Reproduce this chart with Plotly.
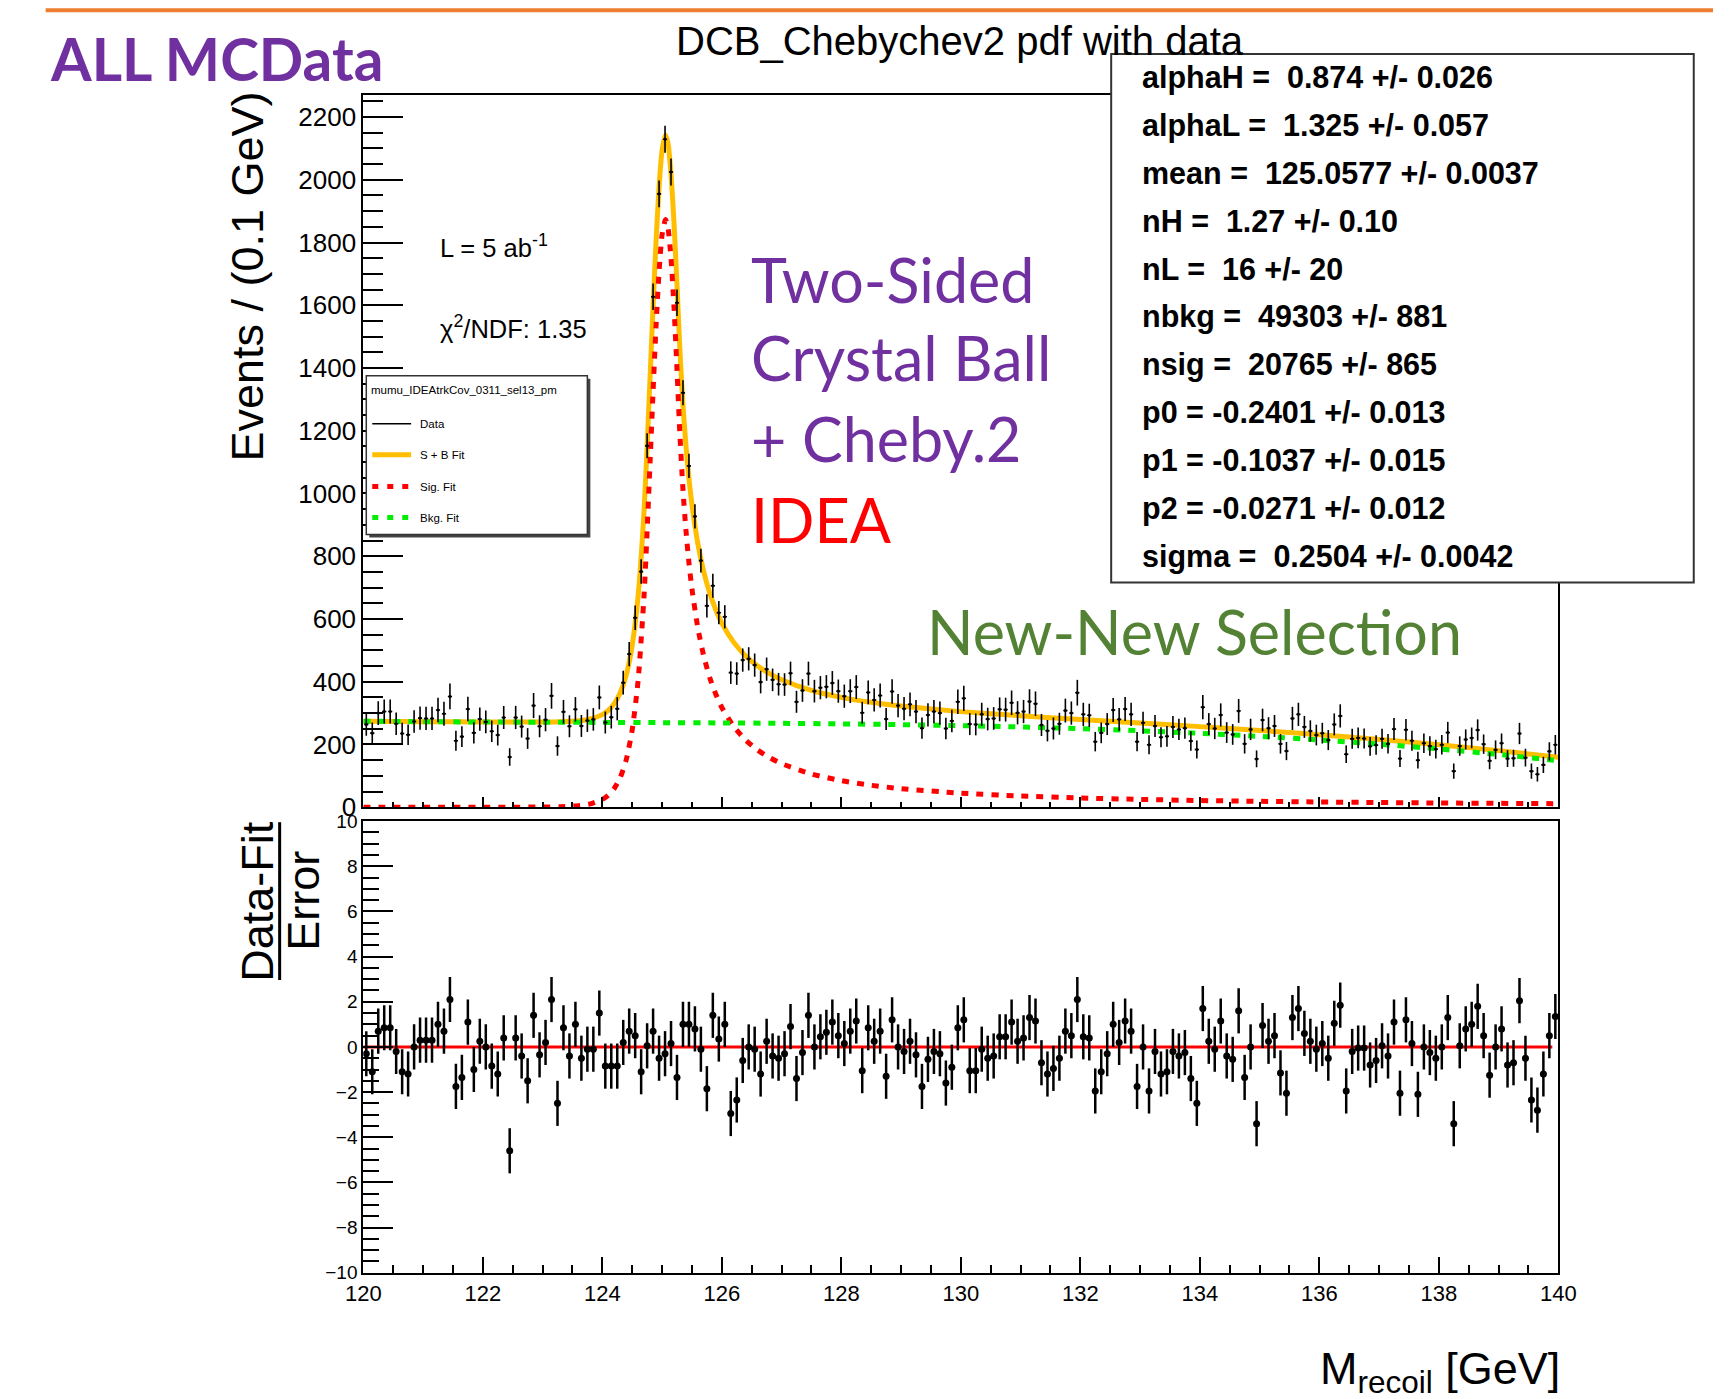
import plotly.graph_objects as go

W, H = 1731, 1399

# ---------------- data ----------------
BIN_LO, BIN_W, NBINS = 120.0, 0.1, 200
bin_centers = [round(BIN_LO + BIN_W * (i + 0.5), 3) for i in range(NBINS)]

counts = [264, 236, 300, 305, 305, 266, 235, 231, 273, 284,
          283, 283, 310, 298, 353, 212, 225, 313, 237, 281,
          272, 242, 230, 286, 160, 286, 257, 219, 324, 258,
          279, 355, 195, 304, 258, 312, 259, 276, 280, 350,
          270, 287, 314, 397, 488, 604, 751, 1152, 1627, 1955,
          2129, 2025, 1608, 1321, 1088, 927, 786, 642, 706, 620,
          607, 429, 426, 469, 473, 453, 399, 440, 406, 392,
          391, 427, 336, 372, 426, 370, 381, 384, 396, 370,
          354, 370, 383, 301, 366, 342, 356, 281, 369, 324,
          314, 328, 305, 252, 294, 305, 300, 251, 275, 336,
          347, 265, 264, 296, 281, 283, 312, 311, 333, 301,
          305, 337, 330, 262, 244, 251, 266, 308, 300, 365,
          296, 293, 209, 237, 265, 310, 280, 313, 296, 209,
          269, 199, 259, 223, 226, 256, 248, 252, 211, 184,
          319, 265, 251, 294, 238, 232, 307, 202, 248, 154,
          278, 252, 259, 202, 179, 283, 296, 256, 243, 230,
          236, 214, 264, 291, 169, 218, 221, 219, 194, 198,
          218, 202, 249, 155, 247, 212, 150, 204, 195, 185,
          199, 238, 115, 195, 216, 221, 246, 201, 148, 183,
          204, 155, 156, 235, 158, 115, 105, 135, 178, 199]

count_errors = [36, 34, 38, 38, 38, 36, 34, 33, 36, 37,
                37, 37, 39, 38, 41, 32, 33, 39, 34, 37,
                36, 34, 33, 37, 28, 37, 35, 33, 40, 35,
                37, 41, 31, 38, 35, 39, 35, 36, 36, 38,
                35, 36, 37, 38, 39, 39, 39, 40, 42, 43,
                43, 43, 42, 40, 39, 39, 38, 37, 38, 37,
                37, 36, 36, 37, 37, 37, 36, 37, 36, 36,
                36, 37, 35, 36, 38, 36, 37, 37, 38, 37,
                37, 38, 38, 35, 38, 37, 38, 35, 39, 37,
                37, 38, 37, 34, 37, 37, 37, 34, 36, 39,
                40, 35, 35, 37, 36, 36, 38, 38, 39, 37,
                37, 39, 39, 35, 34, 35, 35, 38, 37, 41,
                37, 37, 31, 33, 35, 38, 36, 38, 37, 31,
                35, 30, 35, 32, 33, 35, 34, 34, 31, 29,
                39, 35, 34, 37, 33, 33, 38, 31, 34, 27,
                36, 35, 35, 31, 29, 37, 37, 35, 34, 33,
                33, 32, 35, 37, 28, 32, 33, 32, 30, 31,
                32, 31, 35, 27, 34, 32, 27, 31, 31, 30,
                31, 34, 24, 31, 32, 33, 34, 31, 27, 30,
                31, 27, 27, 34, 28, 24, 23, 26, 29, 31]

pulls = [-0.3, -1.1, 0.7, 0.85, 0.85, -0.2, -1.1, -1.2, 0, 0.3,
         0.3, 0.3, 1.0, 0.7, 2.1, -1.75, -1.35, 1.1, -1.0, 0.25,
         0, -0.85, -1.2, 0.4, -4.6, 0.4, -0.4, -1.5, 1.4, -0.35,
         0.2, 2.1, -2.5, 0.85, -0.4, 1.0, -0.5, -0.1, -0.1, 1.5,
         -0.85, -0.85, -0.85, 0.2, 0.7, 0.5, -1.1, 0.05, 0.7, -0.5,
         -0.3, 0.15, -1.35, 1.0, 1.0, 0.8, -0.1, -1.85, 1.4, 0.35,
         1.0, -2.95, -2.35, -0.6, 0, -0.1, -1.2, 0.25, -0.4, -0.5,
         -0.3, 0.9, -1.4, -0.25, 1.4, 0, 0.45, 0.65, 1.1, 0.5,
         0.15, 0.7, 1.15, -1.05, 0.85, 0.25, 0.7, -1.3, 1.2, 0,
         -0.2, 0.25, -0.35, -1.75, -0.55, -0.2, -0.3, -1.6, -0.9, 0.85,
         1.2, -1.05, -1.05, -0.1, -0.5, -0.4, 0.45, 0.45, 1.1, 0.25,
         0.4, 1.3, 1.15, -0.7, -1.2, -0.95, -0.5, 0.7, 0.5, 2.1,
         0.45, 0.4, -1.95, -1.1, -0.3, 1.0, 0.2, 1.15, 0.7, -1.75,
         0, -1.95, -0.2, -1.2, -1.1, -0.2, -0.4, -0.25, -1.4, -2.5,
         1.7, 0.25, -0.1, 1.15, -0.4, -0.55, 1.6, -1.35, 0, -3.4,
         0.95, 0.25, 0.5, -1.15, -2.05, 1.3, 1.7, 0.6, 0.25, -0.1,
         0.15, -0.5, 1.05, 1.85, -1.95, -0.2, -0.05, -0.05, -0.8, -0.6,
         0.05, -0.4, 1.1, -2.05, 1.2, 0.15, -2.1, 0, -0.25, -0.5,
         0, 1.3, -3.4, 0.05, 0.8, 1.0, 1.8, 0.5, -1.25, 0,
         0.8, -0.8, -0.7, 2.05, -0.5, -2.35, -2.8, -1.2, 0.5, 1.35]
pull_error = 1.0

# fit curves
curve_x = [120, 121, 122, 122.5, 123, 123.3, 123.6, 123.8, 124.0, 124.1,
           124.2, 124.3, 124.4, 124.5, 124.6, 124.7, 124.75, 124.8, 124.85, 124.9,
           124.95, 125.0, 125.0577, 125.1, 125.15, 125.2, 125.25, 125.3, 125.35, 125.4,
           125.45, 125.5, 125.6, 125.7, 125.8, 125.9, 126.0, 126.2, 126.4, 126.6,
           126.8, 127, 127.5, 128, 128.5, 129, 130, 131, 132, 133,
           134, 135, 136, 137, 138, 139, 140]
sig_fit = [0, 0, 0.05, 0.2, 0.5, 1.6, 4.9, 10.8, 24.9, 38.3,
           59.8, 94.4, 151, 246, 405, 679, 880, 1103, 1328, 1536,
           1707, 1824, 1873, 1846, 1749, 1594, 1395, 1182, 1012, 882,
           779, 696, 570, 480, 412, 360, 318, 257, 214, 182,
           158, 139, 106, 84.6, 69.9, 59.2, 44.8, 35.7, 29.4, 24.9,
           21.4, 18.8, 16.7, 14.9, 13.5, 12.3, 11.3]
tot_fit = [274.0, 272.6, 271.65, 271.25, 271.4, 272.3, 275.4, 281.3, 295.2, 308.5,
           330, 364.5, 421, 516, 674.9, 948.8, 1149.8, 1372.7, 1597.7, 1805.7,
           1976.6, 2093.6, 2142.6, 2115.5, 2018.5, 1863.4, 1664.4, 1451.3, 1281.3, 1151.2,
           1048.2, 965.1, 839, 749, 680.9, 628.8, 586.7, 525.4, 482.2, 449.9,
           425.7, 406.4, 372.5, 350.2, 334.3, 322.4, 304.7, 291.4, 279.7, 268.5,
           256.9, 244.6, 231.1, 215.9, 199.2, 180.4, 159.5]
bkg_x = [120, 121, 122, 123, 124, 125, 126, 127, 128, 129, 130,
         131, 132, 133, 134, 135, 136, 137, 138, 139, 140]
bkg_fit = [274.0, 272.6, 271.6, 270.9, 270.3, 269.6, 268.7, 267.4, 265.6, 263.2, 259.9,
           255.7, 250.3, 243.6, 235.5, 225.8, 214.4, 201.0, 185.7, 168.1, 148.2]

stat_lines = ["alphaH =\u00a0 0.874 +/- 0.026",
              "alphaL =\u00a0 1.325 +/- 0.057",
              "mean =\u00a0 125.0577 +/- 0.0037",
              "nH =\u00a0 1.27 +/- 0.10",
              "nL =\u00a0 16 +/- 20",
              "nbkg =\u00a0 49303 +/- 881",
              "nsig =\u00a0 20765 +/- 865",
              "p0 = -0.2401 +/- 0.013",
              "p1 = -0.1037 +/- 0.015",
              "p2 = -0.0271 +/- 0.012",
              "sigma =\u00a0 0.2504 +/- 0.0042"]

# ---------------- layout helpers ----------------
# Positions are written in target-picture pixels and mapped onto the figure
# (the captured page shows the figure with a small inset).
def Tx(r):
    return 1.017 * r - 14.5

def Ty(r):
    return 1.017 * r - 9.0

def px(x):
    return min(max(Tx(x) / W, 0.0), 1.0)

def py(y):
    return min(max(1 - Ty(y) / H, 0.0), 1.0)

ORANGE = "#FFBE00"
PURPLE = "#7030A0"
SANS = "Liberation Sans, Arial, sans-serif"
CAL = "Lato, sans-serif"

fig = go.Figure()

# top panel
fig.add_trace(go.Scatter(x=curve_x, y=tot_fit, mode="lines", line=dict(color=ORANGE, width=5, shape="spline", smoothing=0.6),
                         xaxis="x", yaxis="y", hoverinfo="skip"))
fig.add_trace(go.Scatter(x=curve_x, y=sig_fit, mode="lines", line=dict(color="#FF0000", width=5, dash="7px,8px", shape="spline", smoothing=0.6),
                         xaxis="x", yaxis="y", hoverinfo="skip"))
fig.add_trace(go.Scatter(x=bkg_x, y=bkg_fit, mode="lines", line=dict(color="#00EE00", width=5, dash="7px,8px", shape="spline", smoothing=0.6),
                         xaxis="x", yaxis="y", hoverinfo="skip"))
fig.add_trace(go.Scatter(x=bin_centers, y=counts, mode="markers",
                         marker=dict(color="black", size=3),
                         error_y=dict(type="data", array=count_errors, color="black", thickness=1.6, width=0),
                         error_x=dict(type="constant", value=0.035, color="black", thickness=1.6, width=0),
                         xaxis="x", yaxis="y"))

# bottom panel
fig.add_trace(go.Scatter(x=[120, 139.9], y=[0, 0], mode="lines", line=dict(color="#FF0000", width=3),
                         xaxis="x2", yaxis="y2", hoverinfo="skip"))
fig.add_trace(go.Scatter(x=bin_centers, y=pulls, mode="markers",
                         marker=dict(color="black", size=7),
                         error_y=dict(type="constant", value=pull_error, color="black", thickness=2.5, width=0),
                         xaxis="x2", yaxis="y2"))

xdom = [px(361), px(1561)]
axis_common = dict(showline=True, mirror=True, linecolor="black", linewidth=2,
                   showgrid=False, zeroline=False, ticks="inside", tickcolor="black", tickwidth=2)

fig.update_layout(
    width=W, height=H, showlegend=False,
    paper_bgcolor="white", plot_bgcolor="white",
    margin=dict(l=0, r=0, t=0, b=0),
    xaxis=dict(domain=xdom, range=[120, 140], anchor="y", dtick=2, ticklen=10,
               minor=dict(dtick=0.5, ticklen=5, ticks="inside", tickcolor="black", tickwidth=2),
               showticklabels=False, **axis_common),
    yaxis=dict(domain=[py(807), py(94)], range=[0, 2270], anchor="x", dtick=200, ticklen=40,
               minor=dict(dtick=50, ticklen=20, ticks="inside", tickcolor="black", tickwidth=2),
               tickfont=dict(family=SANS, size=26, color="black"), **axis_common),
    xaxis2=dict(domain=xdom, range=[120, 140], anchor="y2", matches="x", dtick=2, ticklen=16,
                minor=dict(dtick=0.5, ticklen=8, ticks="inside", tickcolor="black", tickwidth=2),
                tickfont=dict(family=SANS, size=22, color="black"), **axis_common),
    yaxis2=dict(domain=[py(1273), py(821)], range=[-10, 10], anchor="x2", dtick=2, ticklen=30,
                minor=dict(dtick=0.5, ticklen=16, ticks="inside", tickcolor="black", tickwidth=2),
                tickfont=dict(family=SANS, size=19, color="black"), **axis_common),
)

shapes = []
# orange top rule
shapes.append(dict(type="line", xref="paper", yref="paper", x0=px(42), x1=1.0, y0=py(9), y1=py(9),
                   line=dict(color="#ED7D31", width=4), layer="above"))
# stats box
shapes.append(dict(type="rect", xref="paper", yref="paper", x0=px(1112), x1=px(1697), y0=py(582), y1=py(53),
                   fillcolor="white", line=dict(color="#333333", width=2), layer="above"))
# legend shadow + box
shapes.append(dict(type="rect", xref="paper", yref="paper", x0=px(367), x1=px(589), y0=py(537), y1=py(378),
                   fillcolor="#444444", line=dict(width=0), layer="above"))
shapes.append(dict(type="rect", xref="paper", yref="paper", x0=px(364), x1=px(586), y0=py(534), y1=py(375),
                   fillcolor="white", line=dict(color="#333333", width=1.5), layer="above"))
# legend samples
shapes.append(dict(type="line", xref="paper", yref="paper", x0=px(370), x1=px(409), y0=py(423), y1=py(423),
                   line=dict(color="black", width=1.5), layer="above"))
shapes.append(dict(type="line", xref="paper", yref="paper", x0=px(370), x1=px(409), y0=py(454), y1=py(454),
                   line=dict(color=ORANGE, width=5), layer="above"))
shapes.append(dict(type="line", xref="paper", yref="paper", x0=px(370), x1=px(409), y0=py(486), y1=py(486),
                   line=dict(color="#FF0000", width=5, dash="6px,9px"), layer="above"))
shapes.append(dict(type="line", xref="paper", yref="paper", x0=px(370), x1=px(409), y0=py(517), y1=py(517),
                   line=dict(color="#00EE00", width=5, dash="6px,9px"), layer="above"))
# fraction bar for pull axis title
shapes.append(dict(type="line", xref="paper", yref="paper", x0=px(277), x1=px(277), y0=py(980), y1=py(822),
                   line=dict(color="black", width=3), layer="above"))
fig.update_layout(shapes=shapes)

ann = []
def text(x, y, s, size, color="black", family=SANS, xanchor="left", yanchor="middle", angle=0):
    ann.append(dict(x=px(x), y=py(y), xref="paper", yref="paper", text=s, showarrow=False,
                    xanchor=xanchor, yanchor=yanchor, textangle=angle,
                    font=dict(family=family, size=size, color=color)))

text(44, 57, "<b>ALL MCData</b>", 58.5, PURPLE, CAL)
text(960, 40, "DCB_Chebychev2 pdf with data", 40, "black", SANS, xanchor="center")
for i, s in enumerate(stat_lines):
    text(1141, 76 + 48 * i, "<b>" + s + "</b>", 30.5)
text(436, 245, "L = 5 ab<sup>-1</sup>", 25.5)
text(436, 326, "\u03c7<sup>2</sup>/NDF: 1.35", 25.5)
text(748, 279, "Two-Sided", 61, PURPLE, CAL)
text(748, 357, "Crystal Ball", 61, PURPLE, CAL)
text(748, 438, "+ Cheby.2", 61, PURPLE, CAL)
text(748, 519, "IDEA", 61, "#FF0000", CAL)
text(925, 631, "New-New Selection", 61, "#548235", CAL)
# legend texts
text(367, 389, "mumu_IDEAtrkCov_0311_sel13_pm", 11.5)
text(416, 423, "Data", 11.5)
text(416, 454, "S + B Fit", 11.5)
text(416, 486, "Sig. Fit", 11.5)
text(416, 517, "Bkg. Fit", 11.5)
# axis titles
text(245, 276, "Events / (0.1 GeV)", 45, xanchor="center", angle=-90)
text(254, 901, "Data-Fit", 45, xanchor="center", angle=-90)
text(301, 901, "Error", 45, xanchor="center", angle=-90)
text(1565, 1372, "M<sub>recoil</sub> [GeV]", 45, xanchor="right")
fig.update_layout(annotations=ann)

fig.write_html("out.html", config={"displayModeBar": False},
               post_script="document.body.style.margin='0px';document.body.style.overflow='hidden';")
